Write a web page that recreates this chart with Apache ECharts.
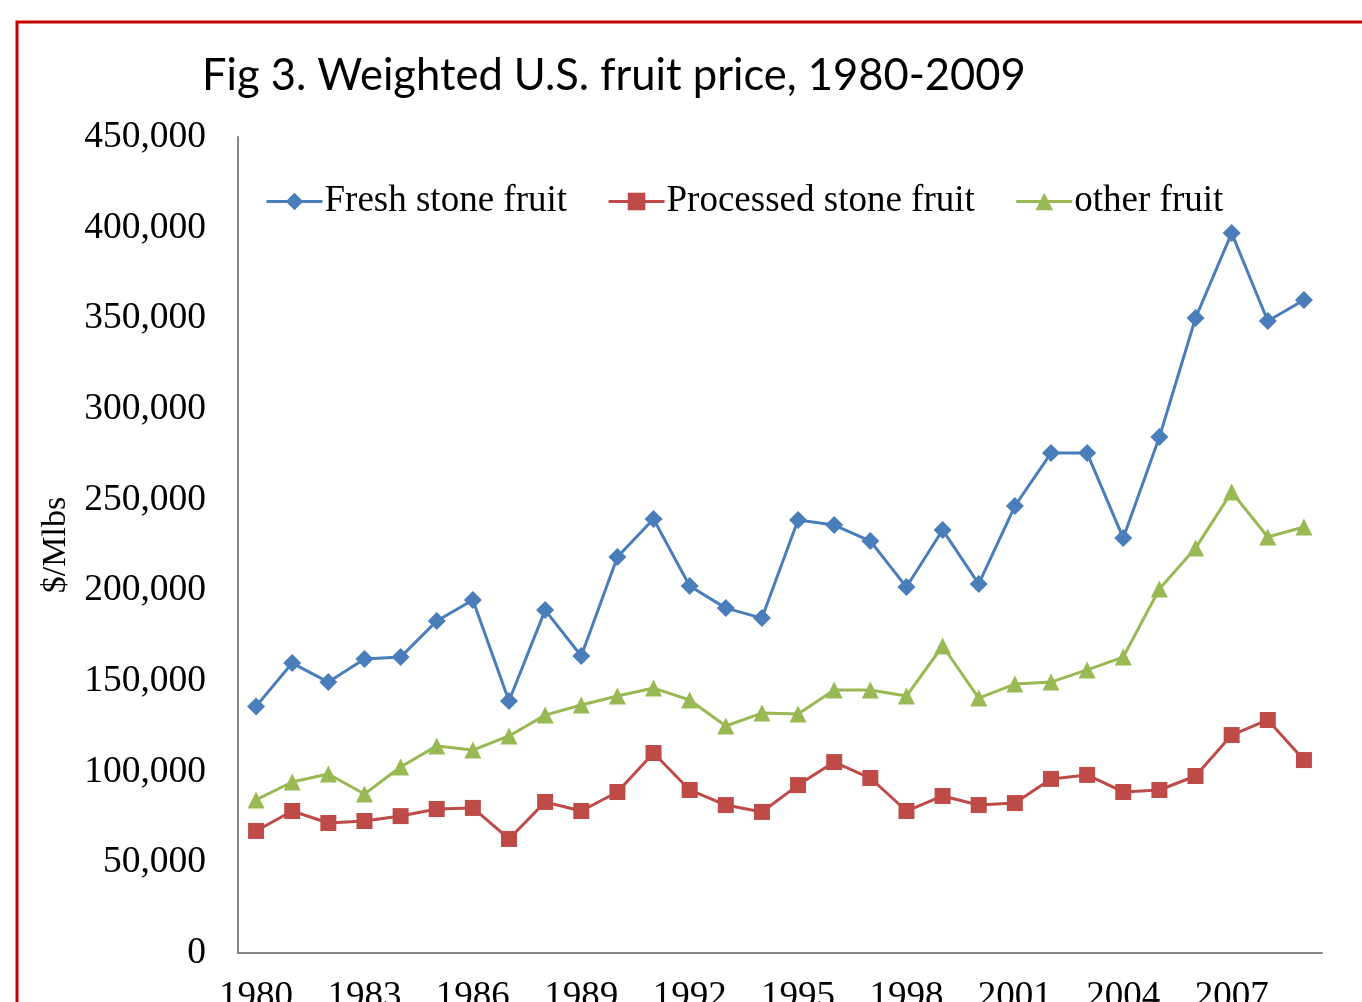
<!DOCTYPE html>
<html><head><meta charset="utf-8">
<script src="https://cdn.jsdelivr.net/npm/echarts@6/dist/echarts.min.js"></script>
<style>html,body{margin:0;padding:0;background:#fff}#c{width:1362px;height:1002px}</style>
</head><body><div id="c"></div>
<script>
var years = [];
for (var y = 1980; y <= 2009; y++) years.push(String(y));
var freshStone = [136000,159900,149400,162100,163200,183100,194700,139000,189100,163800,218400,239300,202400,190200,184700,238800,236000,227200,201800,233300,203500,246500,275700,275700,228800,284500,350200,397000,348500,360100];
var processedStone = [67300,78300,71700,72800,75500,79400,80000,62900,83300,78300,88800,110300,89900,81600,77800,92600,105300,96500,78300,86600,81600,82700,96000,98200,88800,89900,97600,120200,128500,106400];
var otherFruit = [84400,94300,98700,87700,102600,114200,111900,119700,131200,136800,141700,146100,139500,125200,132300,131800,145000,145000,141700,169300,140600,148300,149400,156100,163200,200700,223300,254200,229400,234900];
var seriesNames = ['Fresh stone fruit','Processed stone fruit','other fruit'];

var chart = echarts.init(document.getElementById('c'));
var serif = '"Liberation Serif","Times New Roman",serif';
function mk(name, data, color, symbol, size) {
  return {name:name, type:'line', data:data, symbol:symbol, symbolSize:size,
    lineStyle:{color:color,width:3}, itemStyle:{color:color}, animation:false};
}
chart.setOption({
  animation:false,
  title:{text:'Fig 3. Weighted U.S. fruit price, 1980-2009', left:197, top:49,
    textStyle:{fontFamily:'Lato, "Open Sans", sans-serif', fontWeight:'normal', fontSize:43.5, color:'#000'}},
  legend:{left:260, top:178, itemWidth:56, itemHeight:22, itemGap:40,
    lineStyle:{width:3},
    textStyle:{fontFamily:serif, fontSize:37, color:'#000', padding:[0,0,0,-3]}, data:seriesNames},
  grid:{left:238, top:137, right:40, bottom:49, outerBoundsMode:'none', containLabel:false},
  xAxis:{type:'category', data:years, boundaryGap:true,
    axisLine:{lineStyle:{color:'#868686',width:2}}, axisTick:{show:false},
    axisLabel:{interval:2, margin:26, fontFamily:serif, fontSize:37, color:'#000'}},
  yAxis:{type:'value', min:0, max:450000, interval:50000,
    name:'$/Mlbs', nameLocation:'middle', nameGap:158, nameRotate:90,
    nameTextStyle:{fontFamily:serif, fontSize:34, color:'#000'},
    axisLine:{show:true, lineStyle:{color:'#868686',width:2}}, axisTick:{show:false},
    splitLine:{show:false},
    axisLabel:{margin:32, fontFamily:serif, fontSize:37.5, color:'#000',
      formatter:function(v){return v.toLocaleString('en-US');}}},
  graphic:[{type:'rect', shape:{x:17, y:22, width:1400, height:1100},
    style:{fill:'none', stroke:'#C00000', lineWidth:3}, silent:true}],
  series:[
    mk(seriesNames[0], freshStone, '#4A7EBB', 'diamond', 18),
    mk(seriesNames[1], processedStone, '#BE4B48', 'rect', 16),
    mk(seriesNames[2], otherFruit, '#98B954', 'triangle', 17)
  ]
});
</script></body></html>
